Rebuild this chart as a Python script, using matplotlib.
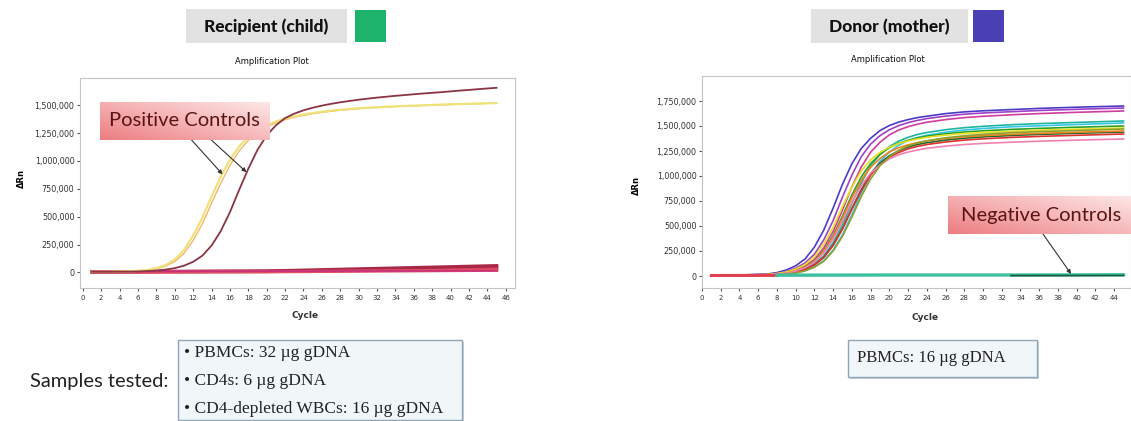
import numpy as np
import matplotlib
matplotlib.use("Agg")
import matplotlib.pyplot as plt
from matplotlib.patches import Rectangle
from matplotlib.colors import LinearSegmentedColormap

W, H = 1131, 421

# ---- left panel: recipient (child), values in thousands of delta Rn ----
cycles_l = list(range(1, 46))
pos_yellow = [5, 5, 6, 8, 10, 14, 22, 38, 65, 115, 200, 330, 490, 680, 860, 1010, 1130,
              1215, 1275, 1320, 1355, 1380, 1400, 1417, 1430, 1442, 1452, 1460, 1467, 1473,
              1478, 1483, 1487, 1491, 1494, 1497, 1500, 1503, 1506, 1509, 1511, 1514, 1516,
              1518, 1520]
pos_orange = [5, 5, 6, 7, 9, 12, 19, 32, 55, 97, 170, 285, 435, 620, 800, 960, 1090, 1185,
              1255, 1305, 1343, 1370, 1392, 1409, 1424, 1436, 1446, 1455, 1462, 1469, 1475,
              1480, 1484, 1488, 1492, 1495, 1498, 1501, 1504, 1507, 1510, 1512, 1515, 1517,
              1519]
pos_maroon = [5, 5, 5, 6, 7, 9, 12, 17, 25, 38, 60, 95, 150, 240, 370, 540, 740, 930, 1100,
              1230, 1320, 1385, 1425, 1455, 1478, 1497, 1513, 1527, 1539, 1550, 1560, 1569,
              1577, 1585, 1592, 1599, 1606, 1612, 1618, 1625, 1632, 1638, 1645, 1651, 1657]

neg_cycles_l = [1, 20, 45]
neg_l = {
    "#c0304f": [5, 8, 45],
    "#d2405a": [5, 10, 30],
    "#a82848": [5, 12, 60],
    "#e05060": [5, 6, 20],
}
neg_magenta_l = [8, 15]

# ---- right panel: donor (mother) ----
cycles_r = [1, 4, 7, 8, 9, 10, 11, 12, 13, 14, 15, 16, 17, 18, 19, 20, 21, 22, 23, 24,
            26, 28, 30, 33, 36, 40, 45]
donor = {
    "#4b3cc8": [5, 10, 20, 34, 60, 102, 170, 289, 459, 680, 918, 1122, 1275, 1377, 1454,
                1505, 1539, 1564, 1584, 1598, 1624, 1641, 1652, 1664, 1676, 1688, 1700],
    "#a040c8": [5, 8, 17, 27, 45, 77, 131, 218, 361, 554, 790, 1008, 1193, 1319, 1403,
                1462, 1504, 1534, 1556, 1574, 1599, 1618, 1630, 1643, 1655, 1667, 1680],
    "#d03ca0": [5, 7, 13, 20, 33, 58, 99, 165, 281, 446, 660, 891, 1089, 1238, 1337, 1411,
                1460, 1493, 1518, 1538, 1564, 1584, 1597, 1612, 1624, 1637, 1650],
    "#1fb5a0": [5, 6, 11, 16, 25, 42, 71, 121, 202, 333, 512, 729, 930, 1101, 1217, 1294,
                1349, 1387, 1415, 1435, 1463, 1483, 1497, 1513, 1524, 1536, 1550],
    "#35c5e5": [5, 6, 9, 12, 18, 31, 54, 92, 153, 260, 413, 612, 826, 1010, 1148, 1239,
                1308, 1354, 1385, 1408, 1438, 1460, 1475, 1492, 1502, 1515, 1530],
    "#2aa02a": [5, 6, 12, 18, 30, 53, 90, 150, 255, 405, 600, 810, 990, 1125, 1215, 1283,
                1328, 1358, 1380, 1398, 1422, 1440, 1452, 1466, 1476, 1488, 1500],
    "#1d6b2a": [4, 6, 10, 14, 23, 39, 66, 112, 187, 310, 475, 677, 864, 1022, 1130, 1202,
                1253, 1289, 1315, 1333, 1359, 1378, 1391, 1405, 1416, 1427, 1440],
    "#e8e020": [4, 7, 15, 24, 40, 68, 115, 192, 318, 488, 696, 888, 1051, 1162, 1236, 1288,
                1325, 1351, 1370, 1387, 1409, 1425, 1436, 1447, 1458, 1468, 1480],
    "#f08020": [4, 6, 12, 17, 29, 51, 87, 145, 247, 392, 580, 783, 957, 1088, 1175, 1240,
                1283, 1312, 1334, 1351, 1375, 1392, 1404, 1417, 1427, 1438, 1450],
    "#e03030": [4, 6, 10, 14, 23, 38, 65, 111, 185, 305, 469, 667, 852, 1008, 1115, 1186,
                1235, 1271, 1296, 1315, 1340, 1359, 1372, 1386, 1396, 1407, 1420],
    "#f080b0": [4, 5, 11, 16, 27, 48, 82, 137, 233, 370, 548, 740, 904, 1028, 1110, 1171,
                1212, 1240, 1260, 1277, 1299, 1315, 1326, 1338, 1348, 1359, 1370],
    "#8da030": [4, 6, 9, 12, 18, 29, 51, 88, 147, 250, 397, 588, 794, 970, 1103, 1191,
                1257, 1301, 1330, 1352, 1382, 1402, 1417, 1433, 1444, 1455, 1470],
}
neg_red_cycles = [1, 8]
neg_red = [5, 6]
neg_teal_cycles = [8, 20, 33, 45]
neg_teal = [8, 10, 10, 12]
neg_dark_cycles = [33, 45]
neg_dark = [4, 5]

yticks_l = [0, 250000, 500000, 750000, 1000000, 1250000, 1500000]
yticks_r = [0, 250000, 500000, 750000, 1000000, 1250000, 1500000, 1750000]
xticks_l = list(range(0, 47, 2))
xticks_r = list(range(0, 45, 2))

samples_left = ["\u2022 PBMCs: 32 \u00b5g gDNA", "\u2022 CD4s: 6 \u00b5g gDNA",
                "\u2022 CD4-depleted WBCs: 16 \u00b5g gDNA"]
samples_right = "PBMCs: 16 \u00b5g gDNA"


def fx(x):
    return x / W


def fy(y):
    return 1 - y / H


def k(vals):
    return [v * 1000 for v in vals]


def style_axes(ax, xticks, yticks):
    for s in ax.spines.values():
        s.set_color("#c4c4c4")
        s.set_linewidth(0.8)
    ax.set_xticks(xticks)
    ax.set_yticks(yticks)
    ax.set_yticklabels([f"{v:,}" for v in yticks])
    ax.tick_params(axis="x", labelsize=5, length=2, pad=3, colors="#555", labelcolor="#333")
    ax.tick_params(axis="y", labelsize=5.8, length=2, pad=2, colors="#555", labelcolor="#333")


fig = plt.figure(figsize=(W / 100, H / 100), dpi=100)

# left axes
axl = fig.add_axes([fx(80), fy(288), fx(435), 210 / H])
for c, v in neg_l.items():
    axl.plot(neg_cycles_l, k(v), color=c, lw=2.4, zorder=1)
axl.plot([1, 45], k(neg_magenta_l), color="#c8307e", lw=1.2, zorder=2)
axl.plot(cycles_l, k(pos_orange), color="#f2b060", lw=0.9, zorder=3)
axl.plot(cycles_l, k(pos_yellow), color="#efe27a", lw=1.6, zorder=3)
axl.plot(cycles_l, k(pos_maroon), color="#8a3444", lw=1.3, zorder=4)
axl.set_xlim(-0.3, 47)
axl.set_ylim(-140000, 1745000)
style_axes(axl, xticks_l, yticks_l)

# right axes
axr = fig.add_axes([fx(702), fy(288), 1 - fx(702), 212 / H])
for c, v in donor.items():
    axr.plot(cycles_r, k(v), color=c, lw=1.2, zorder=2)
axr.plot(neg_red_cycles, k(neg_red), color="#e04050", lw=2.2, zorder=4)
axr.plot(neg_teal_cycles, k(neg_teal), color="#3cc0a0", lw=2.4, zorder=4)
axr.plot(neg_dark_cycles, k(neg_dark), color="#1a5a3a", lw=1.2, zorder=5)
axr.set_xlim(0, 45.8)
axr.set_ylim(-120000, 2000000)
style_axes(axr, xticks_r, yticks_r)

# axis labels / small titles
fig.text(fx(272), fy(62), "Amplification Plot", fontsize=6, color="#111", ha="center", va="center")
fig.text(fx(888), fy(60), "Amplification Plot", fontsize=6, color="#111", ha="center", va="center")
fig.text(fx(21), fy(178), "\u0394Rn", fontsize=6, fontweight="bold", rotation=90, ha="center", va="center")
fig.text(fx(636), fy(186), "\u0394Rn", fontsize=6, fontweight="bold", rotation=90, ha="center", va="center")
fig.text(fx(305), fy(316), "Cycle", fontsize=6.5, fontweight="bold", color="#333", ha="center", va="center")
fig.text(fx(925), fy(318), "Cycle", fontsize=6.5, fontweight="bold", color="#333", ha="center", va="center")

# header boxes
for (x0, x1, label, sq0, sqc) in [(186, 347, "Recipient (child)", 355, "#1db36a"),
                                  (811, 968, "Donor (mother)", 973, "#4a3fb5")]:
    fig.patches.append(Rectangle((fx(x0), fy(43)), fx(x1 - x0), 34 / H, transform=fig.transFigure,
                                 facecolor="#e2e2e2", edgecolor="none"))
    fig.patches.append(Rectangle((fx(sq0), fy(42)), fx(31), 32 / H, transform=fig.transFigure,
                                 facecolor=sqc, edgecolor="none"))
    fig.text(fx((x0 + x1) / 2), fy(27), label, family="Lato", fontweight="black", fontsize=12.5,
             color="#111", ha="center", va="center")

# pink gradient callouts
pink = LinearSegmentedColormap.from_list("pink", ["#ec7e82", "#f6b4b6", "#fde6e6"])


def callout(x0, y0, x1, y1, text):
    cax = fig.add_axes([fx(x0), fy(y1), fx(x1 - x0), (y1 - y0) / H])
    gx = np.linspace(0, 1, 60)
    gy = np.linspace(0, 1, 20)
    grad = 0.55 * gx[None, :] + 0.45 * gy[:, None]
    cax.imshow(grad, cmap=pink, aspect="auto", origin="lower", extent=[0, 1, 0, 1], vmin=0, vmax=1)
    cax.set_axis_off()
    cax.text(0.5, 0.5, text, family="Lato", fontsize=14.5, color="#5a1414",
             ha="center", va="center", transform=cax.transAxes)


callout(100, 102, 269, 140, "Positive Controls")
callout(948, 196, 1135, 234, "Negative Controls")

arrow = dict(arrowstyle="-|>", color="#333", lw=0.8, mutation_scale=6, shrinkA=0, shrinkB=0)
axl.annotate("", xy=(15.2, 880000), xytext=(fx(188), fy(136)), textcoords="figure fraction",
             arrowprops=arrow, zorder=10)
axl.annotate("", xy=(17.8, 900000), xytext=(fx(207), fy(136)), textcoords="figure fraction",
             arrowprops=arrow, zorder=10)
axr.annotate("", xy=(39.4, 20000), xytext=(fx(1043), fy(234)), textcoords="figure fraction",
             arrowprops=arrow, zorder=10)

# sample boxes
for (x0, y0, x1, y1) in [(178, 340, 462, 420), (848, 340, 1037, 377)]:
    fig.patches.append(Rectangle((fx(x0 + 2), fy(y1 + 2)), fx(x1 - x0), (y1 - y0) / H,
                                 transform=fig.transFigure, facecolor="#c8d0d8", edgecolor="none"))
    fig.patches.append(Rectangle((fx(x0), fy(y1)), fx(x1 - x0), (y1 - y0) / H,
                                 transform=fig.transFigure, facecolor="#f1f7f9",
                                 edgecolor="#8fa6b6", lw=1))
for i, line in enumerate(samples_left):
    fig.text(fx(184), fy(353 + 28 * i), line, family="Liberation Serif", fontsize=12.5,
             color="#222", ha="left", va="center")
fig.text(fx(857), fy(358), samples_right, family="Liberation Serif", fontsize=12,
         color="#222", ha="left", va="center")
fig.text(fx(30), fy(381), "Samples tested:", family="Lato", fontsize=14.5, color="#222",
         ha="left", va="center")

fig.savefig("out.png", dpi=100)
